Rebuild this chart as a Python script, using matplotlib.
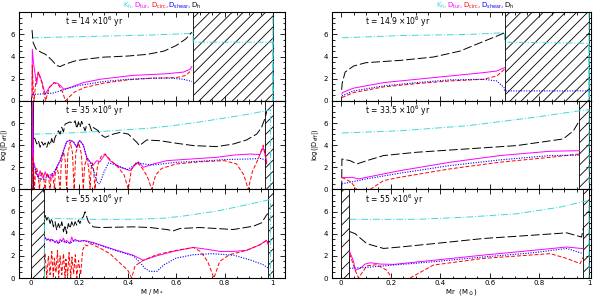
import numpy as np
import matplotlib.pyplot as plt
from matplotlib.ticker import MultipleLocator

nan = np.nan

# legend-like header
leg_labels = [r'K$_{\rm h}$,', r'D$_{\rm tur}$,', r'D$_{\rm circ}$,', r'D$_{\rm shear}$,', r'D$_{\rm h}$']
leg_colors = ['#3fd8dc', '#ff00ff', '#ff0000', '#0000ff', 'black']

# panel ages (10^6 yr)
ages_left = ['14', '35', '55']
ages_right = ['14.9', '33.5', '55']

# hatched (convective) zones per panel, in x units
zones_left = [[(0.67, 1.0)], [(0.0, 0.006), (0.968, 1.0)], [(0.0, 0.055), (0.98, 1.0)]]
zones_right = [[(0.659, 1.0)], [(0.961, 1.0)], [(0.0, 0.03), (0.977, 1.0)]]

# ---------------- left column : (x, log D) ----------------
# t = 14 Myr
l1_kh = [(0.005, 5.7), (0.1, 5.75), (0.3, 5.85), (0.5, 5.95), (0.67, 6.1), (0.67, 5.3), (0.9, 5.3),
         (1.0, 5.3), (1.0, 0.0), (1.0, 8.0)]
l1_h = [(0.004, 6.4), (0.008, 5.3), (0.02, 4.7), (0.04, 4.4), (0.06, 4.2), (0.085, 3.7), (0.105, 3.2),
        (0.12, 3.1), (0.14, 3.3), (0.18, 3.6), (0.22, 3.75), (0.3, 3.95), (0.4, 4.05), (0.48, 4.2),
        (0.55, 4.5), (0.6, 5.0), (0.64, 5.6), (0.665, 6.2)]
l1_tur = [(0.004, 0.3), (0.005, 4.65), (0.01, 3.4), (0.023, 1.5), (0.03, 2.6), (0.044, 1.8), (0.058, 0.6),
          (0.075, 1.2), (0.095, 1.65), (0.11, 1.6), (0.125, 1.3), (0.135, 1.05), (0.16, 1.2), (0.216, 1.65),
          (0.285, 1.95), (0.42, 2.3), (0.56, 2.45), (0.63, 2.6), (0.657, 2.85), (0.665, 3.1)]
l1_circ = [(0.004, 0.3), (0.005, 3.2), (0.008, 1.5), (0.012, 0.0), (0.02, 1.8), (0.03, 2.6), (0.045, 1.6),
           (0.06, 0.0), (0.075, 1.2), (0.095, 1.65), (0.115, 1.4), (0.13, 0.8), (0.142, 0.0), (0.155, 0.3),
           (0.18, 0.8), (0.22, 1.2), (0.3, 1.6), (0.4, 1.9), (0.5, 2.05), (0.6, 2.1), (0.64, 2.3), (0.665, 2.8)]
l1_shear = [(0.005, 0.6), (0.03, 0.6), (0.06, 0.65), (0.09, 0.7), (0.12, 0.9), (0.14, 1.05), (0.2, 1.4),
            (0.3, 1.75), (0.4, 1.95), (0.5, 2.05), (0.58, 2.05), (0.63, 1.95), (0.665, 1.75)]

# t = 35 Myr
l2_kh = [(0.01, 5.0), (0.1, 5.05), (0.2, 5.15), (0.3, 5.25), (0.4, 5.4), (0.5, 5.55), (0.6, 5.8),
         (0.7, 6.1), (0.8, 6.45), (0.9, 6.8), (0.97, 7.1), (0.99, 7.2), (0.99, 0.0)]
l2_h = [(0.0096, 4.7), (0.0165, 4.55), (0.0234, 4.1), (0.0303, 4.4), (0.0372, 3.8), (0.0441, 4.3),
        (0.051, 4.0), (0.058, 4.2), (0.0647, 3.8), (0.0716, 4.3), (0.0785, 4.0), (0.0854, 4.6),
        (0.0923, 4.1), (0.0992, 4.7), (0.106, 5.0), (0.113, 5.3), (0.12, 5.0), (0.127, 5.6), (0.134, 5.2),
        (0.1405, 5.9), (0.161, 6.1), (0.175, 5.95), (0.182, 6.2), (0.189, 5.5), (0.196, 6.1), (0.202, 5.6),
        (0.209, 6.15), (0.223, 5.3), (0.23, 5.8), (0.241, 5.9), (0.25, 5.3), (0.257, 5.6), (0.278, 5.3),
        (0.285, 5.0), (0.306, 4.7), (0.34, 5.0), (0.368, 5.15), (0.402, 5.0), (0.437, 4.26), (0.448, 3.96),
        (0.478, 4.47), (0.533, 4.4), (0.602, 4.17), (0.671, 3.96), (0.767, 3.87), (0.836, 4.1),
        (0.891, 4.47), (0.933, 5.0), (0.953, 5.6), (0.967, 6.4), (0.974, 7.0)]
l2_tur = [(0.005, 0.0), (0.005, 8.0), (0.0096, 2.6), (0.0165, 2.0), (0.0234, 1.4), (0.0303, 1.1),
          (0.0372, 1.7), (0.0441, 1.2), (0.051, 1.0), (0.058, 1.6), (0.0647, 1.2), (0.0716, 1.3),
          (0.0785, 0.9), (0.0854, 1.4), (0.0923, 1.2), (0.0992, 1.7), (0.106, 2.0), (0.12, 2.6),
          (0.134, 3.5), (0.147, 4.3), (0.161, 4.45), (0.175, 4.3), (0.189, 3.8), (0.196, 4.3), (0.202, 4.4),
          (0.216, 4.0), (0.23, 2.9), (0.244, 2.5), (0.257, 2.2), (0.271, 2.6), (0.285, 2.5), (0.306, 3.2),
          (0.326, 2.6), (0.368, 2.0), (0.409, 1.7), (0.443, 2.5), (0.464, 2.0), (0.506, 2.3), (0.561, 2.6),
          (0.629, 2.7), (0.698, 2.8), (0.767, 2.9), (0.836, 3.1), (0.905, 3.2), (0.946, 3.15), (0.96, 3.8),
          (0.967, 3.2), (0.975, 2.5)]
l2_circ = [(0.005, 0.0), (0.005, 3.0), (0.0096, 2.4), (0.0138, 0.0),
           (0.018, 1.5), (0.0234, 1.9), (0.029, 1.4), (0.0344, 0.0),
           (0.039, 1.2), (0.0455, 1.6), (0.052, 1.1), (0.058, 0.0),
           (0.062, 1.1), (0.0675, 1.5), (0.073, 1.0), (0.0785, 0.0),
           (0.082, 0.9), (0.088, 1.3), (0.092, 0.9), (0.0964, 0.0),
           (0.1, 1.4), (0.107, 2.0), (0.113, 1.4), (0.12, 0.0),
           (0.125, 2.4), (0.134, 3.4), (0.141, 2.6), (0.147, 0.0),
           (0.152, 3.2), (0.162, 4.3), (0.171, 3.3), (0.178, 0.0),
           (0.185, 3.3), (0.197, 4.2), (0.208, 3.2), (0.216, 0.0),
           (0.221, 2.1), (0.23, 2.8), (0.238, 2.0), (0.244, 0.0),
           (0.248, 1.8), (0.253, 2.4), (0.259, 1.7), (0.264, 0.0),
           (0.275, 2.2), (0.29, 3.0), (0.306, 3.2), (0.33, 2.6), (0.36, 2.0), (0.385, 1.3), (0.402, 0.0),
           (0.415, 1.8), (0.437, 2.5), (0.46, 1.9), (0.48, 1.2), (0.499, 0.0),
           (0.515, 1.3), (0.54, 1.9), (0.6, 2.3), (0.7, 2.5), (0.8, 2.6), (0.85, 2.3), (0.88, 1.3),
           (0.898, 0.0), (0.915, 1.6), (0.94, 2.8), (0.96, 4.0), (0.967, 3.2), (0.975, 2.2)]
l2_shear = [(0.0096, 2.3), (0.03, 1.0), (0.051, 0.9), (0.0716, 1.2), (0.0923, 1.5), (0.106, 2.0),
            (0.12, 2.6), (0.134, 3.5), (0.147, 4.3), (0.161, 4.45), (0.175, 4.3), (0.189, 3.8),
            (0.196, 4.3), (0.202, 4.4), (0.216, 4.0), (0.23, 2.9), (0.244, 2.4), (0.257, 1.8), (0.271, 0.8),
            (0.278, 0.5), (0.285, 0.55), (0.3, 1.5), (0.32, 2.4), (0.35, 2.2), (0.4, 1.8), (0.44, 2.4),
            (0.5, 2.2), (0.6, 2.45), (0.7, 2.55), (0.8, 2.7), (0.9, 2.75), (0.95, 2.8), (0.975, 2.6)]

# t = 55 Myr
l3_kh = [(0.055, 0.0), (0.055, 5.4), (0.25, 5.3), (0.42, 5.3), (0.55, 5.4), (0.63, 5.6), (0.77, 6.05),
         (0.9, 6.65), (0.98, 7.05), (0.99, 7.1), (0.99, 0.0)]
l3_h = [(0.058, 5.68), (0.0647, 5.23), (0.0716, 5.53), (0.0785, 4.92), (0.0854, 5.38), (0.0923, 4.62),
        (0.0992, 5.08), (0.106, 4.32), (0.113, 4.92), (0.12, 4.47), (0.127, 5.08), (0.134, 4.17),
        (0.1405, 4.77), (0.147, 4.02), (0.154, 4.92), (0.161, 4.47), (0.168, 5.08), (0.175, 4.62),
        (0.182, 5.08), (0.189, 4.77), (0.196, 5.23), (0.202, 4.92), (0.209, 5.38), (0.216, 5.53),
        (0.223, 5.98), (0.23, 5.53), (0.237, 5.08), (0.244, 4.92), (0.257, 4.62), (0.285, 4.56),
        (0.423, 4.62), (0.492, 4.56), (0.561, 4.38), (0.588, 4.26), (0.616, 4.47), (0.698, 4.56),
        (0.767, 4.47), (0.836, 4.38), (0.919, 4.68), (0.953, 4.98), (0.974, 5.7), (0.981, 5.83)]
l3_tur = [(0.058, 3.7), (0.0647, 3.4), (0.0716, 3.55), (0.0785, 3.3), (0.0854, 3.5), (0.0923, 3.4),
          (0.0992, 3.2), (0.106, 3.4), (0.113, 3.1), (0.12, 3.5), (0.127, 3.3), (0.134, 3.6), (0.1405, 3.2),
          (0.147, 3.4), (0.161, 3.1), (0.168, 3.7), (0.175, 3.3), (0.182, 3.5), (0.189, 3.4), (0.202, 3.3),
          (0.216, 3.4), (0.23, 3.35), (0.257, 3.2), (0.285, 3.0), (0.354, 2.5), (0.423, 2.05), (0.464, 1.6),
          (0.519, 2.0), (0.588, 2.4), (0.671, 2.76), (0.726, 2.6), (0.781, 2.4), (0.836, 2.4), (0.891, 2.5),
          (0.946, 3.0), (0.974, 3.4), (0.981, 3.1)]
l3_circ = [(0.058, 2.2), (0.0647, 0.0), (0.0716, 2.0), (0.0785, 0.3), (0.0854, 2.4), (0.0923, 0.0),
           (0.096, 1.8), (0.103, 0.5), (0.109, 2.5), (0.114, 0.0), (0.12, 2.0), (0.127, 0.3), (0.134, 2.2),
           (0.1405, 0.0), (0.144, 1.7), (0.151, 0.2), (0.157, 2.3), (0.164, 0.0), (0.169, 1.9), (0.176, 0.4),
           (0.183, 2.1), (0.189, 0.0), (0.196, 1.6), (0.205, 0.3), (0.213, 2.5), (0.223, 3.0), (0.232, 2.9),
           (0.244, 3.1), (0.257, 3.0), (0.285, 2.7), (0.326, 2.2), (0.37, 1.3), (0.4, 0.7), (0.416, 0.0),
           (0.43, 1.1), (0.464, 1.6), (0.519, 2.1), (0.588, 2.45), (0.671, 2.76), (0.7, 2.4), (0.73, 1.5),
           (0.756, 0.0), (0.78, 1.5), (0.82, 2.1), (0.891, 2.5), (0.946, 3.0), (0.974, 3.4), (0.981, 3.0)]
l3_shear = [(0.058, 3.6), (0.0716, 3.45), (0.0854, 3.45), (0.0992, 3.25), (0.113, 3.15), (0.127, 3.35),
            (0.1405, 3.25), (0.161, 3.15), (0.175, 3.35), (0.189, 3.35), (0.216, 3.35), (0.257, 3.15),
            (0.285, 2.95), (0.354, 2.45), (0.423, 2.0), (0.45, 1.4), (0.47, 0.9), (0.49, 0.6), (0.52, 0.6),
            (0.55, 1.2), (0.6, 1.8), (0.67, 2.1), (0.75, 2.2), (0.84, 2.05), (0.91, 1.6), (0.96, 1.2),
            (0.98, 0.9)]

# ---------------- right column : (Mr, log D) ----------------
# t = 14.9 Myr
r1_kh = [(0.003, 5.7), (0.24, 5.9), (0.51, 6.0), (0.659, 6.15), (0.659, 5.3), (1.0, 5.2), (1.0, 0.0),
         (1.0, 8.0)]
r1_h = [(0.002, 1.0), (0.004, 1.6), (0.016, 2.6), (0.05, 3.15), (0.1, 3.45), (0.24, 3.66), (0.372, 3.96),
        (0.48, 4.5), (0.561, 5.25), (0.628, 5.85), (0.659, 6.15)]
r1_tur = [(0.003, 0.6), (0.005, 0.75), (0.05, 1.15), (0.171, 1.65), (0.305, 1.95), (0.44, 2.25),
          (0.574, 2.55), (0.628, 2.7), (0.659, 3.0)]
r1_circ = [(0.003, 0.3), (0.05, 0.75), (0.171, 1.26), (0.305, 1.56), (0.44, 1.8), (0.574, 1.95),
           (0.628, 2.25), (0.659, 2.85)]
r1_shear = [(0.003, 0.45), (0.05, 0.9), (0.171, 1.35), (0.305, 1.65), (0.44, 1.9), (0.574, 1.95),
            (0.628, 1.8), (0.659, 1.15), (0.659, 0.9), (1.0, 0.9)]

# t = 33.5 Myr
r2_kh = [(0.003, 5.1), (0.24, 5.3), (0.507, 5.75), (0.775, 6.5), (0.961, 7.1), (1.0, 7.2), (1.0, 0.0)]
r2_h = [(0.002, 0.0), (0.003, 2.75), (0.036, 2.6), (0.063, 2.3), (0.1035, 2.6), (0.171, 3.06), (0.305, 3.36),
        (0.507, 3.66), (0.708, 3.96), (0.896, 4.56), (0.937, 5.3), (0.961, 6.2)]
r2_tur = [(0.003, 1.05), (0.043, 1.1), (0.07, 0.95), (0.1035, 1.1), (0.238, 1.7), (0.44, 2.46),
          (0.641, 3.06), (0.843, 3.45), (0.961, 3.5)]
r2_circ = [(0.003, 1.1), (0.04, 0.66), (0.063, 0.0), (nan, nan), (0.117, 0.0), (0.171, 0.8), (0.238, 1.1),
           (0.44, 1.86), (0.641, 2.46), (0.843, 2.9), (0.961, 3.2)]
r2_shear = [(0.003, 0.5), (0.1035, 0.96), (0.238, 1.47), (0.44, 2.16), (0.641, 2.67), (0.843, 3.06),
            (0.961, 3.1)]

# t = 55 Myr
r3_kh = [(0.034, 5.3), (0.305, 5.3), (0.507, 5.5), (0.708, 5.8), (0.883, 6.4), (0.977, 6.9), (1.0, 7.0),
         (1.0, 0.0)]
r3_h = [(0.034, 4.2), (0.0565, 4.0), (0.1035, 3.1), (0.171, 2.67), (0.238, 2.8), (0.372, 3.1),
        (0.574, 3.57), (0.775, 3.87), (0.91, 4.08), (0.97, 3.7), (0.977, 4.5)]
r3_tur = [(0.034, 2.4), (0.05, 1.5), (0.0565, 0.7), (0.0766, 0.87), (0.0968, 1.26), (0.117, 1.38),
          (0.157, 1.26), (0.211, 1.23), (0.372, 1.6), (0.574, 2.07), (0.775, 2.5), (0.91, 2.8), (0.977, 2.65)]
r3_circ = [(0.034, 2.2), (0.0565, 0.7), (0.07, 0.0), (0.1035, 1.1), (0.144, 1.2), (0.184, 0.7), (0.204, 0.0),
           (nan, nan), (0.278, 0.0), (0.372, 1.17), (0.574, 1.77), (0.843, 2.2), (0.91, 1.77), (0.964, 1.3),
           (0.977, 1.9)]
r3_shear = [(0.034, 0.87), (0.1035, 0.96), (0.211, 1.17), (0.372, 1.47), (0.574, 1.9), (0.775, 2.28),
            (0.91, 2.67), (0.977, 2.2)]

left_data = [(l1_kh, l1_h, l1_tur, l1_circ, l1_shear),
             (l2_kh, l2_h, l2_tur, l2_circ, l2_shear),
             (l3_kh, l3_h, l3_tur, l3_circ, l3_shear)]
right_data = [(r1_kh, r1_h, r1_tur, r1_circ, r1_shear),
              (r2_kh, r2_h, r2_tur, r2_circ, r2_shear),
              (r3_kh, r3_h, r3_tur, r3_circ, r3_shear)]

styles = [dict(color='#3fd8dc', ls=(0, (7, 2, 1, 2)), lw=0.7),
          dict(color='black', ls=(0, (9, 3)), lw=0.7),
          dict(color='#ff00ff', ls='-', lw=0.7),
          dict(color='#ff0000', ls=(0, (4, 2)), lw=0.7),
          dict(color='#0000ff', ls=(0, (1, 1.3)), lw=0.8)]

plt.rcParams['hatch.linewidth'] = 0.6
plt.rcParams['font.size'] = 5

fig = plt.figure(figsize=(6, 2.98), dpi=100)
h = 0.2972
bottoms = [0.0671 + 2 * h, 0.0671 + h, 0.0671]


def draw_panel(ax, series, zones, age, tx, xlim, last):
    for a, b in zones:
        ax.axvspan(a, b, facecolor='white', edgecolor='black', hatch='///', lw=0.6, zorder=1)
    for pts, st in zip(series, styles):
        arr = np.array(pts, dtype=float)
        ax.plot(arr[:, 0], arr[:, 1], zorder=2, **st)
    ax.set_xlim(*xlim)
    ax.set_ylim(0, 8)
    ax.set_yticks([0, 2, 4, 6, 8], ['0', '2', '4', '6', ''])
    ax.yaxis.set_minor_locator(MultipleLocator(0.5))
    ax.set_xticks([0, 0.2, 0.4, 0.6, 0.8, 1.0])
    ax.xaxis.set_minor_locator(MultipleLocator(0.05))
    ax.tick_params(which='both', direction='in', top=True, right=True, width=0.6, labelsize=5)
    ax.tick_params(axis='y', pad=3)
    ax.tick_params(axis='x', pad=1.5)
    ax.tick_params(which='major', length=3.5)
    ax.tick_params(which='minor', length=1.8)
    for sp in ax.spines.values():
        sp.set_linewidth(0.8)
    if last:
        ax.set_xticklabels(['0', '0.2', '0.4', '0.6', '0.8', '1'])
    else:
        ax.set_xticklabels([])
    ax.text(tx, 7.1, 't = ' + age + r' $\times$10$^6$ yr', fontsize=5.5, va='center')


def header(ax, x0):
    prev = None
    for s, c in zip(leg_labels, leg_colors):
        if prev is None:
            prev = ax.annotate(s, xy=(x0, 1.012), xycoords='axes fraction', color=c,
                               fontsize=5, va='bottom')
        else:
            prev = ax.annotate(s, xy=(1, 0), xycoords=prev, color=c, fontsize=5, va='bottom')


for i in range(3):
    ax = fig.add_axes([19 / 600, bottoms[i], 266 / 600, h])
    draw_panel(ax, left_data[i], zones_left[i], ages_left[i], 0.14, (-0.05, 1.05), i == 2)
    if i == 0:
        header(ax, 0.39)
    if i == 1:
        ax.set_ylabel(r'log(|D$_{\rm eff}$|)', fontsize=4.8, labelpad=0.5)
    if i == 2:
        ax.set_xlabel(r'M / M$_*$', fontsize=5, labelpad=0.5)

for i in range(3):
    ax = fig.add_axes([332 / 600, bottoms[i], 259 / 600, h])
    draw_panel(ax, right_data[i], zones_right[i], ages_right[i], 0.097, (-0.037, 1.008), i == 2)
    if i == 0:
        header(ax, 0.40)
    if i == 1:
        ax.set_ylabel(r'log(|D$_{\rm eff}$|)', fontsize=4.8, labelpad=2)
    if i == 2:
        ax.set_xlabel(r'Mr  (M$_\odot$)', fontsize=5, labelpad=0.5)

fig.savefig('out.png', dpi=100)
